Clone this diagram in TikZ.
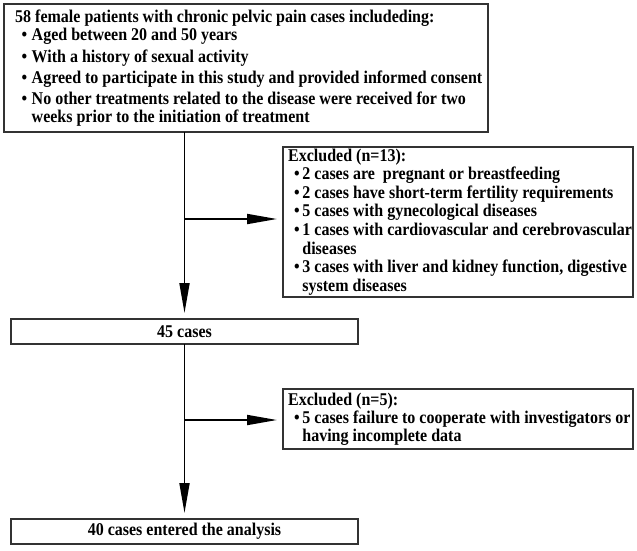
\documentclass[tikz,border=0pt]{standalone}
\usepackage{graphicx}
\usepackage{fontspec}
\setmainfont{Liberation Serif}
\usetikzlibrary{arrows.meta}
\newcommand\tallt[1]{\scalebox{1}[1.12]{#1}}
\newcommand\bitem[5]{\node[txt] (#1) at (#2,#3) {\tallt{•\hspace{#4}#5}};}
\begin{document}
\begin{tikzpicture}[x=1pt,y=-1pt,
  box/.style={draw=black!80, line width=1.2pt, anchor=north west, inner sep=0pt, outer sep=0pt},
  txt/.style={anchor=base west, inner sep=0pt, font=\fontsize{16}{19}\selectfont\bfseries},
  ctxt/.style={anchor=center, inner sep=0pt, font=\fontsize{16}{19}\selectfont\bfseries},
  arr/.style={line width=1.8pt, -{Triangle[length=30pt,width=10pt]}, shorten >=6pt}]
\useasboundingbox (0,0) rectangle (637,550);
% boxes
\node[box, minimum width=484pt, minimum height=128pt] (top) at (4,4) {};
\node[box, minimum width=350pt, minimum height=150pt] (ex1) at (283,147) {};
\node[box, minimum width=347pt, minimum height=25pt] (c45) at (11,319) {};
\node[box, minimum width=350pt, minimum height=60pt] (ex2) at (283,389) {};
\node[box, minimum width=347pt, minimum height=25pt] (c40) at (11,519) {};
% top box text
\node[txt] (t0) at (15,22) {\tallt{58 female patients with chronic pelvic pain cases includeding:}};
\bitem{t1}{21.5}{40}{4.4pt}{Aged between 20 and 50 years}
\bitem{t2}{21.5}{62}{4.4pt}{With a history of sexual activity}
\bitem{t3}{21.5}{83}{4.4pt}{Agreed to participate in this study and provided informed consent}
\bitem{t4}{21.5}{104}{4.4pt}{No other treatments related to the disease were received for two}
\node[txt] (t5) at (31.5,122) {\tallt{weeks prior to the initiation of treatment}};
% excluded 1
\node[txt] (e0) at (288,161) {\tallt{Excluded (n=13):}};
\bitem{e1}{294}{179.6}{2.6pt}{2 cases are\ \ pregnant or breastfeeding}
\bitem{e2}{294}{198.2}{2.6pt}{2 cases have short-term fertility requirements}
\bitem{e3}{294}{216.8}{2.6pt}{5 cases with gynecological diseases}
\bitem{e4}{294}{235.4}{2.6pt}{1 cases with cardiovascular and cerebrovascular}
\node[txt] (e5) at (302.2,254) {\tallt{diseases}};
\bitem{e6}{294}{272.6}{2.6pt}{3 cases with liver and kidney function, digestive}
\node[txt] (e7) at (302.2,291) {\tallt{system diseases}};
% excluded 2
\node[txt] (f0) at (288,405) {\tallt{Excluded (n=5):}};
\bitem{f1}{294}{423}{2.6pt}{5 cases failure to cooperate with investigators or}
\node[txt] (f2) at (302.2,441) {\tallt{having incomplete data}};
% centered boxes
\node[ctxt] (l45) at (c45.center) {\tallt{45 cases}};
\node[ctxt] (l40) at (c40.center) {\tallt{40 cases entered the analysis}};
% connectors
\coordinate (j1) at (c45.north |- 0,219);
\coordinate (j2) at (c45.north |- 0,420);
\draw[arr] (top.south -| c45.north) -- (c45.north);
\draw[arr] (c45.south) -- (c40.north);
\draw[arr] (j1) -- (j1 -| ex1.west);
\draw[arr] (j2) -- (j2 -| ex2.west);
\end{tikzpicture}
\end{document}
